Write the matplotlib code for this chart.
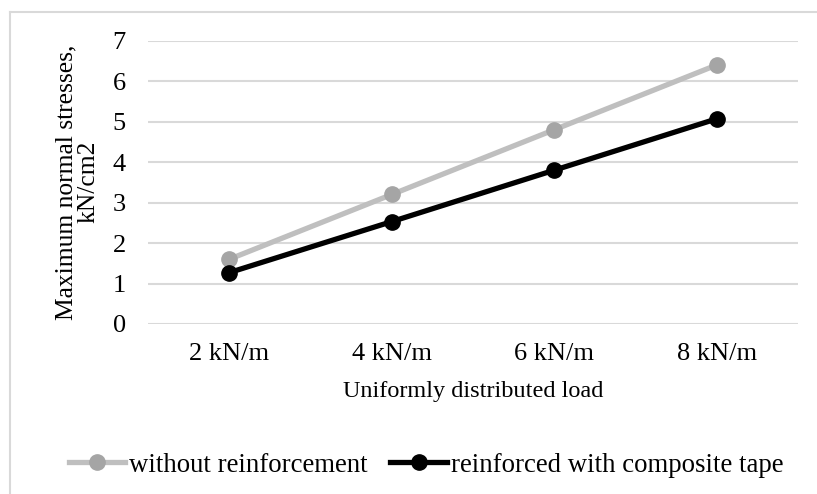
import matplotlib.pyplot as plt
from matplotlib.lines import Line2D

loads = ['2 kN/m', '4 kN/m', '6 kN/m', '8 kN/m']
without_reinf = [1.6, 3.2, 4.8, 6.4]
with_tape = [1.27, 2.53, 3.8, 5.07]

plt.rcParams['font.family'] = ['Liberation Serif', 'DejaVu Serif']

fig = plt.figure(figsize=(8.17, 4.94), dpi=100)
ax = fig.add_axes([148/817, 1-324/494, 650/817, (324-40.7)/494])

x = range(len(loads))
ax.plot(x, without_reinf, color='#BFBFBF', lw=3.8, marker='o', ms=11,
        mfc='#A5A5A5', mec='#A5A5A5', label='without reinforcement', zorder=3)
ax.plot(x, with_tape, color='#000000', lw=3.8, marker='o', ms=11,
        label='reinforced with composite tape', zorder=4)

ax.set_xlim(-0.5, 3.5)
ax.set_ylim(0, 7)
ax.set_yticks(range(8))
ax.set_xticks(list(x))
ax.set_xticklabels(loads)
ax.grid(axis='y', color='#D9D9D9', lw=1.5)
ax.set_axisbelow(True)
for s in ax.spines.values():
    s.set_visible(False)
ax.tick_params(length=0, labelsize=19)
ax.tick_params(axis='y', pad=16)
ax.tick_params(axis='x', pad=14)

ax.set_xlabel('Uniformly distributed load', fontsize=17.5, labelpad=11)
fig.text(77/817, 1-182/494, 'Maximum normal stresses,\nkN/cm2', rotation=90,
         fontsize=18.4, ha='center', va='center', multialignment='center',
         linespacing=1.0)

fig.legend(loc='center', bbox_to_anchor=(426/817, 1-465/494), ncol=2,
           frameon=False, fontsize=19.3, handlelength=2.1, handletextpad=0.15,
           columnspacing=0.85, borderaxespad=0)

# chart area border (only top and left edges are visible in the crop)
fig.add_artist(Line2D([10/817, 10/817], [0, 1-12/494], color='#D9D9D9', lw=1.5,
                      transform=fig.transFigure))
fig.add_artist(Line2D([10/817, 1], [1-12/494, 1-12/494], color='#D9D9D9', lw=1.5,
                      transform=fig.transFigure))

fig.savefig('out.png', dpi=100)
